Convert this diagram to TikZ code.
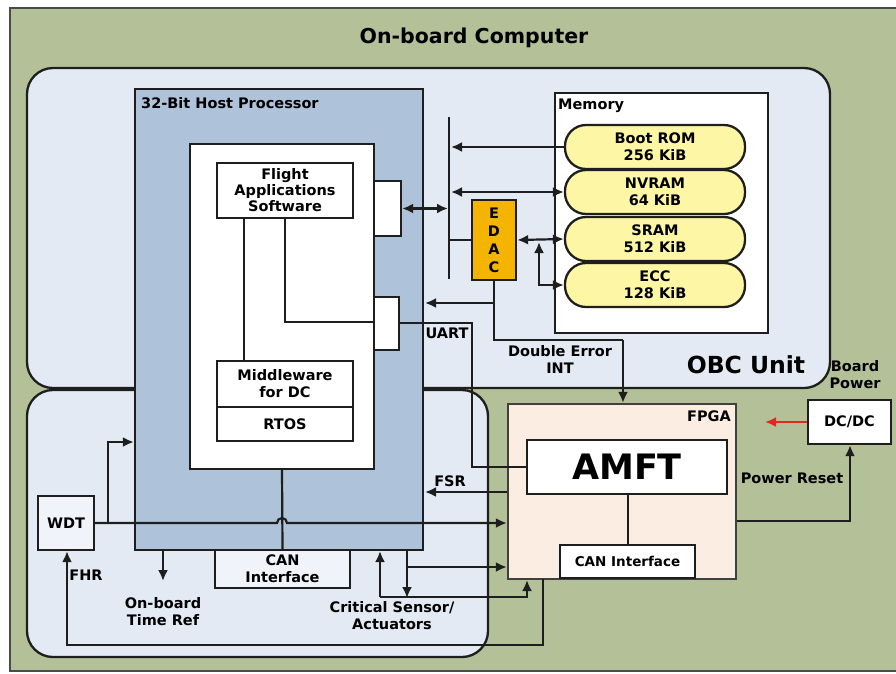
\documentclass[tikz,border=0pt]{standalone}
\usepackage{fontspec}
\setmainfont{DejaVu Sans}
\usetikzlibrary{arrows.meta}
\definecolor{obcgreen}{RGB}{180,192,152}
\definecolor{panel}{RGB}{228,234,244}
\definecolor{hostblue}{RGB}{174,194,218}
\definecolor{fpgafill}{RGB}{252,237,227}
\definecolor{edacfill}{RGB}{245,180,0}
\definecolor{pillfill}{RGB}{253,247,165}
\definecolor{lc}{RGB}{30,30,30}
\definecolor{softwhite}{RGB}{240,243,249}
\definecolor{redarr}{RGB}{225,40,30}
\begin{document}
\begin{tikzpicture}[x=1pt,y=-1pt,
  lbl/.style={font=\fontsize{14.5}{17}\selectfont\bfseries, align=center, inner sep=0pt, text=black},
  box/.style={draw=lc, line width=2.3pt, inner sep=0pt, lbl},
  conn/.style={draw=lc, line width=2.2pt},
  arr/.style={conn, -{Latex[length=11pt,width=10pt]}},
  darr/.style={conn, {Latex[length=11pt,width=10pt]}-{Latex[length=11pt,width=10pt]}},
  pill/.style={box, fill=pillfill, rounded corners=21pt, minimum width=180pt, minimum height=44pt}]
\useasboundingbox (0,0) rectangle (896,673);
\fill[white] (0,0) rectangle (896,673);
% outer board
\draw[fill=obcgreen, draw=lc!80, line width=1.8pt] (10,8) rectangle (897,671);
\node[lbl, font=\fontsize{20.5}{24}\selectfont\bfseries] (title) at (474,38) {On-board Computer};
% panels
\draw[fill=panel, draw=lc, line width=2.3pt, rounded corners=26pt] (27,68) rectangle (830,388);
\draw[fill=panel, draw=lc, line width=2.3pt, rounded corners=26pt] (27,390) rectangle (488,657);
\node[lbl, font=\fontsize{23.5}{27}\selectfont\bfseries] (obcu) at (746,365) {OBC Unit};
% host processor
\node[box, fill=hostblue, minimum width=288pt, minimum height=461pt] (host) at (279,319.5) {};
\node[lbl, anchor=west] (hostl) at (141,103) {32-Bit Host Processor};
\node[box, fill=white, minimum width=184pt, minimum height=325pt] (inner) at (282,306.5) {};
\node[box, fill=white, minimum width=136pt, minimum height=55pt] (fas) at (285,190.5) {Flight\\[-1pt]Applications\\[-1pt]Software};
\node[box, fill=white, minimum width=136pt, minimum height=46pt] (mw) at (285,384) {Middleware\\for DC};
\node[box, fill=white, minimum width=136pt, minimum height=34pt] (rtos) at (285,424) {RTOS};
\node[box, fill=white, minimum width=27pt, minimum height=55pt] (porta) at (387.5,208.5) {};
\node[box, fill=white, minimum width=25pt, minimum height=53pt] (portb) at (386.5,323.5) {};
\node[box, fill=softwhite, minimum width=135pt, minimum height=38pt] (canp) at (282.5,569) {CAN\\Interface};
% memory
\node[box, fill=white, minimum width=213pt, minimum height=240pt] (mem) at (661.5,213) {};
\node[lbl, anchor=west] (meml) at (558,106) {Memory};
\node[pill] (boot) at (655,147) {Boot ROM\\256 KiB};
\node[pill] (nvram) at (655,192) {NVRAM\\64 KiB};
\node[pill] (sram) at (655,239) {SRAM\\512 KiB};
\node[pill] (ecc) at (655,285) {ECC\\128 KiB};
% EDAC
\node[box, fill=edacfill, minimum width=44pt, minimum height=80pt, font=\fontsize{14.5}{18}\selectfont\bfseries] (edac) at (494,240) {E\\D\\A\\C};
% FPGA
\node[box, fill=fpgafill, draw=lc!85, minimum width=228pt, minimum height=175pt] (fpga) at (622,491.5) {};
\node[lbl, anchor=east] (fpgal) at (731,416) {FPGA};
\node[box, fill=white, minimum width=200pt, minimum height=54pt, font=\fontsize{35}{40}\selectfont\bfseries] (amft) at (627,467) {AMFT};
\node[box, fill=white, minimum width=135pt, minimum height=33pt, font=\fontsize{13.5}{16}\selectfont\bfseries] (canf) at (627.5,561.5) {CAN Interface};
% DC/DC, WDT
\node[box, fill=white, minimum width=83pt, minimum height=44pt] (dcdc) at (849.5,422) {DC/DC};
\node[lbl] (bpow) at (855,375) {Board\\Power};
\node[box, fill=softwhite, minimum width=56pt, minimum height=54pt] (wdt) at (66,523) {WDT};
% labels
\node[lbl] (uart) at (447,333) {UART};
\node[lbl] (dei) at (560,359) {Double Error\\INT};
\node[lbl] (pres) at (792,478) {Power Reset};
\node[lbl] (fsr) at (450,481) {FSR};
\node[lbl] (fhr) at (86,575) {FHR};
\node[lbl] (otr) at (163,612) {On-board\\Time Ref};
\node[lbl] (csa) at (392,616) {Critical Sensor/\\Actuators};
% coordinates
\coordinate (busT) at (449,117);
\coordinate (busB) at (449,279);
% software lines
\draw[conn] (244,218) -- (mw.north -| 244,0);
\draw[conn] (285,218) -- (285,322) -- (portb.west |- 0,322);
\draw[conn] (282,469) -- (canp.north);
% bus
\draw[conn] (busT) -- (busB);
\draw[darr] (porta.east) -- (448,208.5);
\draw[arr] (boot.west) -- (451,147);
\draw[darr] (451,192) -- (nvram.west);
\draw[conn] (449,240) -- (edac.west);
\draw[darr] (edac.east) -- (sram.west);
\draw[darr] (539,242) |- (ecc.west);
% EDAC outputs
\draw[conn] (edac.south) -- (494,340) -- (623,340);
\draw[arr] (623,340) -- (fpga.north -| 623,0);
\draw[arr] (494,303) -- (425,303);
% UART
\draw[conn] (portb.east |- 0,323) -- (472,323) -- (472,467) -- (amft.west);
% FSR
\draw[arr] (fpga.west |- 0,492) -- (425,492);
% WDT line with hop
\draw[arr] (wdt.east) -- (277,523) arc[start angle=180,end angle=0,radius=5pt] -- (fpga.west |- 0,523);
\draw[arr] (108,523) -- (108,442) -- (host.west |- 0,442);
% Onboard time ref
\draw[arr] (163,550) -- (163,581);
% Critical sensors
\draw[arr] (407,550) -- (407,598);
\draw[arr] (407,567) -- (fpga.west |- 0,567);
\draw[arr] (380,597) -- (380,551);
\draw[arr] (380,597) -- (527,597) -- (527,580);
% FHR
\draw[arr] (543,579) -- (543,645) -- (67,645) -- (wdt.south -| 67,0);
% AMFT - CAN
\draw[conn] (628,494) -- (canf.north -| 628,0);
% power
\draw[arr] (fpga.east |- 0,521) -- (850,521) -- (dcdc.south -| 850,0);
\draw[line width=2.2pt, draw=redarr, -{Latex[length=11pt,width=10pt]}] (dcdc.west) -- (765,422);
\end{tikzpicture}
\end{document}
